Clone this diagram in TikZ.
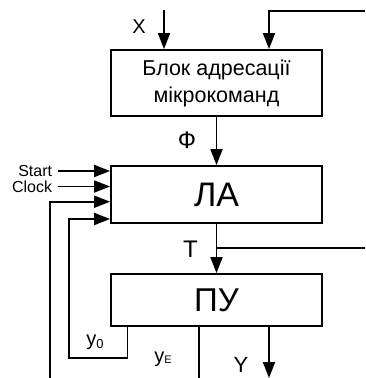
\documentclass[tikz,border=0pt]{standalone}
\usepackage{fontspec}
\setmainfont{Liberation Sans}
\usetikzlibrary{arrows.meta,calc}
\begin{document}
\begin{tikzpicture}[x=1pt,y=-1pt,line width=1.8pt,
  blk/.style={draw,minimum width=211pt,inner sep=0pt,align=center},
  arr/.style={-{Triangle[length=16pt,width=12pt]}},
  lbl/.style={inner sep=0pt,font=\fontsize{20}{20}\selectfont},
  small/.style={inner sep=0pt,font=\fontsize{16}{15}\selectfont}]
\useasboundingbox (0,0) rectangle (365,378);
\node[blk,minimum height=66pt,font=\fontsize{21.5}{27}\selectfont] (bam) at (216.5,83) {Блок адресації\\мікрокоманд};
\node[blk,minimum height=57pt,font=\fontsize{34}{34}\selectfont] (la) at (216.5,194.5) {ЛА};
\node[blk,minimum height=52pt,font=\fontsize{33}{33}\selectfont] (pu) at (216.5,300) {ПУ};
% inputs to top block
\coordinate (xin) at (164,10);
\draw[arr] (xin) -- (xin |- bam.north);
\node[lbl] (xlab) at (139,27) {X};
\coordinate (fbR) at (365,10.7);
\coordinate (fbC) at (269,10.7);
\draw[arr] (fbR) -- (fbC) -- (fbC |- bam.north);
% Phi
\draw[arr] (bam.south) -- (la.north);
\node[inner sep=0pt,font=\fontsize{24}{24}\selectfont] (phi) at (187,140) {Ф};
% LA inputs
\node[small,anchor=east,inner xsep=5pt] (start) at (58,171) {Start};
\node[small,anchor=east,inner xsep=5pt] (clock) at (58,186.5) {Clock};
\draw[arr] (start.east) -- (start.east -| la.west);
\draw[arr] (clock.east) -- (clock.east -| la.west);
\coordinate (c3) at (50,378);
\coordinate (i3) at ($(la.west)+(0,7.2)$);
\draw[arr] (c3) |- (i3);
\coordinate (i4) at ($(la.west)+(0,24.5)$);
\coordinate (y0b) at (127.5,357.7);
\coordinate (y0c) at (69,357.7);
\draw[arr] (pu.south -| y0b) -- (y0b) -- (y0c) |- (i4);
\node[lbl] (y0lab) at (95,342) {y\raisebox{-3pt}{\fontsize{13}{13}\selectfont 0}};
% T
\draw[arr] (la.south) -- (pu.north);
\coordinate (tbr) at (365,247.7);
\draw (la.south |- tbr) -- (tbr);
\node[inner sep=0pt,font=\fontsize{24}{24}\selectfont] (tlab) at (190.5,249) {T};
% outputs
\coordinate (yEend) at (199,378);
\draw (pu.south -| yEend) -- (yEend);
\node[lbl] (yElab) at (163,359) {y\raisebox{-1pt}{\fontsize{11}{11}\selectfont E}};
\coordinate (Yend) at (269,378);
\draw[arr] (pu.south -| Yend) -- (Yend);
\node[inner sep=0pt,font=\fontsize{22}{22}\selectfont] (Ylab) at (241,365) {Y};
\end{tikzpicture}
\end{document}
